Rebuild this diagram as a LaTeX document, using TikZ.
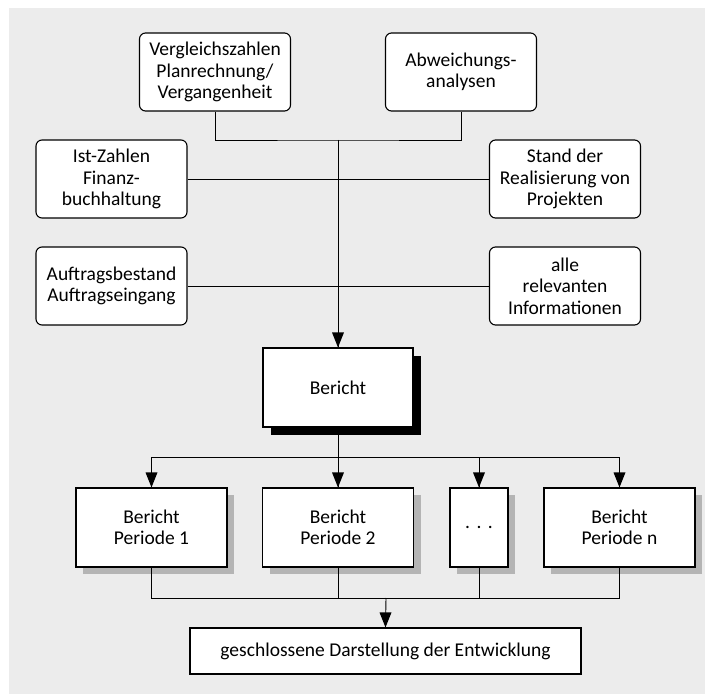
\documentclass[tikz,border=0pt]{standalone}
\usepackage{fontspec}
\setmainfont{Carlito}
\usetikzlibrary{arrows.meta,shadows}
\definecolor{bg}{HTML}{ECECEC}
\definecolor{shade}{HTML}{B4B4B4}
\newcommand{\dfont}{\fontsize{19.5}{21.5}\selectfont}
\newcommand{\tipat}[1]{\fill ([xshift=-6pt,yshift=15pt]#1) -- ([xshift=6pt,yshift=15pt]#1) -- (#1) -- cycle;}
\begin{document}
\begin{tikzpicture}[x=1pt,y=-1pt,
  rbox/.style={draw, rounded corners=6pt, fill=white, line width=1.1pt, minimum width=151pt, minimum height=78pt, align=center, inner sep=0pt, font=\dfont},
  sbox/.style={draw, fill=white, line width=1.1pt, minimum width=151pt, minimum height=79pt, align=center, inner sep=0pt, font=\dfont},
  grayshadow/.style={drop shadow={shadow xshift=7pt, shadow yshift=-7pt, fill=shade, opacity=1}},
  blackshadow/.style={drop shadow={shadow xshift=8pt, shadow yshift=-8pt, fill=black, opacity=1}},
  conn/.style={line width=0.9pt}]
\useasboundingbox (0,0) rectangle (705,695);
\fill[bg] (9,8) rectangle (705,694);
\node[rbox] (v) at (215,72) {Vergleichszahlen\\Planrechnung/\\Vergangenheit};
\node[rbox] (a) at (461,72) {Abweichungs-\\analysen};
\node[rbox] (i) at (111.5,179) {Ist-Zahlen\\Finanz-\\buchhaltung};
\node[rbox] (s) at (565,179) {Stand der\\Realisierung von\\Projekten};
\node[rbox] (au) at (111.5,286) {Auftragsbestand\\Auftragseingang};
\node[rbox] (al) at (565,286) {alle\\relevanten\\Informationen};
\node[sbox, blackshadow, minimum width=150pt] (b) at (338,387.5) {Bericht};
\node[sbox, grayshadow] (p1) at (151.5,527.5) {Bericht\\Periode 1};
\node[sbox, grayshadow] (p2) at (338,527.5) {Bericht\\Periode 2};
\node[sbox, grayshadow, minimum width=58pt] (pd) at (479,527.5) {.\,\,.\,\,.};
\node[sbox, grayshadow] (pn) at (619.5,527.5) {Bericht\\Periode n};
\node[sbox, minimum width=391pt, minimum height=46pt] (g) at (385.5,651) {geschlossene Darstellung der Entwicklung};
\coordinate (j1) at (338,140);
\coordinate (j2) at (338,457);
\coordinate (j3) at (386,598);
\draw[conn] (v.south) |- (j1) -| (a.south);
\draw[conn] (j1) -- (b.north);
\draw[conn] (i.east) -- (s.west);
\draw[conn] (au.east) -- (al.west);
\draw[conn] (b.south) -- (j2);
\draw[conn] (j2) -- (p2.north);
\draw[conn] (j2) -| (p1.north);
\draw[conn] (j2) -| (pd.north);
\draw[conn] (j2) -| (pn.north);
\draw[conn] (p1.south) -- (p1.south |- j3) -- (pn.south |- j3) -- (pn.south);
\draw[conn] (p2.south) -- (p2.south |- j3);
\draw[conn] (pd.south) -- (pd.south |- j3);
\draw[conn] (j3) -- (g.north);
\tipat{b.north}
\tipat{p1.north}
\tipat{p2.north}
\tipat{pd.north}
\tipat{pn.north}
\tipat{g.north}
\end{tikzpicture}
\end{document}
